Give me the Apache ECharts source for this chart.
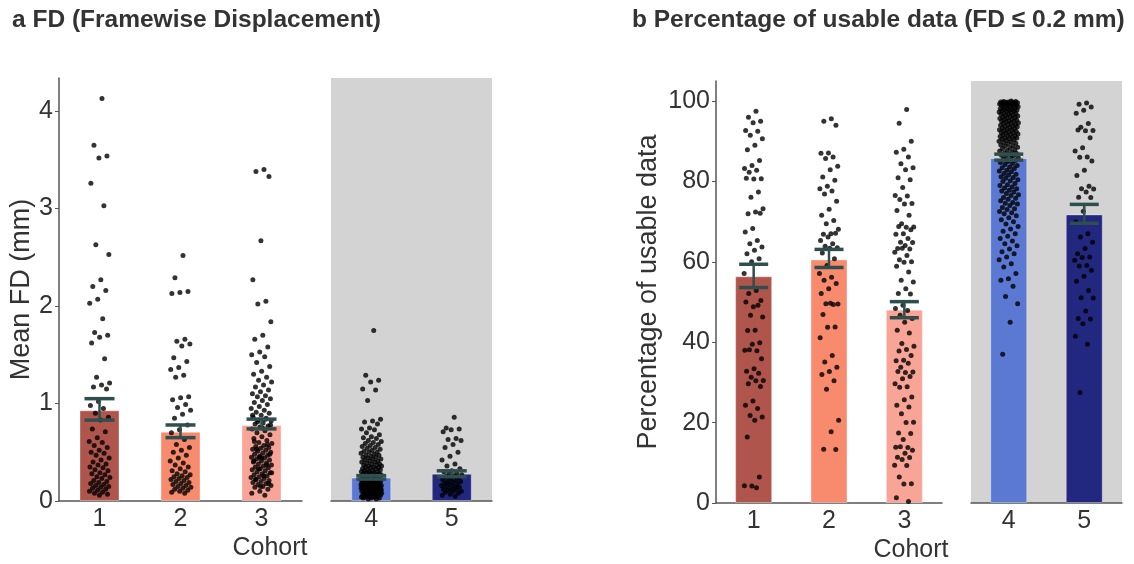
<!DOCTYPE html>
<html><head><meta charset="utf-8">
<script src="https://cdn.jsdelivr.net/npm/echarts@6/dist/echarts.min.js"></script>
<style>html,body{margin:0;padding:0;background:#fff}#c{width:1134px;height:564px}</style>
</head><body><div id="c"></div>
<script>
// ---------- data ----------
const cohortsLeft = ['1', '2', '3'];
const cohortsRight = ['4', '5'];
const fdTicks = [0, 1, 2, 3, 4];
const pctTicks = [0, 20, 40, 60, 80, 100];

const fdMean = [0.93, 0.71, 0.78, 0.24, 0.28];
const fdLow  = [0.83, 0.65, 0.74, 0.225, 0.25];
const fdHigh = [1.05, 0.78, 0.84, 0.26, 0.31];

const pctMean = [56.4, 60.6, 48.1, 85.8, 71.8];
const pctLow  = [53.6, 58.6, 46.1, 85.3, 69.6];
const pctHigh = [59.4, 63.1, 50.1, 86.8, 74.3];

const fd1 = [4.13, 3.65, 3.54, 3.52, 3.26, 3.03, 2.63, 2.53, 2.27, 2.20, 2.16, 2.07, 2.03, 1.87, 1.73, 1.70, 1.68, 1.62, 1.46, 1.27, 1.21, 1.19, 1.17, 1.15, 1.02, 0.98, 0.95, 0.90, 0.86, 0.83, 0.74, 0.71, 0.65, 0.61, 0.60, 0.57, 0.55, 0.52, 0.50, 0.49, 0.47, 0.44, 0.42, 0.40, 0.38, 0.37, 0.35, 0.34, 0.32, 0.31, 0.29, 0.28, 0.27, 0.25, 0.24, 0.23, 0.21, 0.20, 0.19, 0.18, 0.17, 0.16, 0.15, 0.14, 0.13, 0.12, 0.11, 0.10, 0.09, 0.08, 0.07, 0.06];
const fd2 = [2.52, 2.29, 2.15, 2.14, 2.13, 1.66, 1.64, 1.61, 1.59, 1.47, 1.43, 1.37, 1.35, 1.29, 1.27, 1.07, 1.06, 1.04, 0.99, 0.96, 0.93, 0.89, 0.85, 0.78, 0.73, 0.70, 0.63, 0.58, 0.55, 0.52, 0.50, 0.47, 0.44, 0.41, 0.39, 0.37, 0.35, 0.33, 0.31, 0.30, 0.28, 0.27, 0.26, 0.25, 0.24, 0.23, 0.22, 0.21, 0.20, 0.19, 0.18, 0.17, 0.16, 0.15, 0.14, 0.13, 0.12, 0.11, 0.10, 0.09, 0.08];
const fd3 = [3.40, 3.38, 3.33, 2.67, 2.27, 2.05, 2.02, 1.84, 1.70, 1.66, 1.58, 1.53, 1.50, 1.48, 1.42, 1.38, 1.33, 1.30, 1.27, 1.24, 1.22, 1.19, 1.17, 1.14, 1.12, 1.10, 1.08, 1.07, 1.05, 1.03, 1.01, 0.99, 0.97, 0.95, 0.93, 0.91, 0.90, 0.88, 0.86, 0.85, 0.83, 0.82, 0.80, 0.79, 0.77, 0.76, 0.74, 0.72, 0.70, 0.68, 0.66, 0.64, 0.62, 0.60, 0.59, 0.57, 0.56, 0.55, 0.54, 0.53, 0.52, 0.51, 0.50, 0.49, 0.48, 0.47, 0.46, 0.45, 0.44, 0.43, 0.42, 0.41, 0.40, 0.39, 0.38, 0.37, 0.36, 0.35, 0.34, 0.33, 0.32, 0.31, 0.30, 0.29, 0.28, 0.27, 0.26, 0.25, 0.24, 0.23, 0.22, 0.21, 0.20, 0.19, 0.18, 0.17, 0.16, 0.15, 0.14, 0.12, 0.10, 0.08, 0.06, 0.53, 0.48, 0.44, 0.41, 0.37, 0.33, 0.29, 0.26, 0.22, 0.18, 0.15, 0.88, 0.84, 0.81, 0.78, 0.75, 0.61, 0.58, 0.45];
const fd4 = [1.75, 1.29, 1.24, 1.22, 1.15, 1.14, 1.03, 0.84, 0.82, 0.81, 0.79, 0.75, 0.74, 0.73, 0.70, 0.68, 0.66, 0.65, 0.64, 0.62, 0.61, 0.60, 0.59, 0.58, 0.57, 0.56, 0.55, 0.54, 0.53, 0.52, 0.51, 0.50, 0.50, 0.49, 0.48, 0.47, 0.47, 0.46, 0.45, 0.45, 0.44, 0.43, 0.43, 0.42, 0.41, 0.41, 0.40, 0.40, 0.39, 0.38, 0.38, 0.37, 0.37, 0.36, 0.36, 0.35, 0.35, 0.34, 0.34, 0.33, 0.33, 0.32, 0.32, 0.31, 0.31, 0.30, 0.30, 0.30, 0.29, 0.29, 0.28, 0.28, 0.28, 0.27, 0.27, 0.27, 0.26, 0.26, 0.26, 0.25, 0.25, 0.25, 0.24, 0.24, 0.24, 0.23, 0.23, 0.23, 0.22, 0.22, 0.22, 0.21, 0.21, 0.21, 0.20, 0.20, 0.20, 0.19, 0.19, 0.19, 0.19, 0.18, 0.18, 0.18, 0.17, 0.17, 0.17, 0.17, 0.16, 0.16, 0.16, 0.16, 0.15, 0.15, 0.15, 0.15, 0.14, 0.14, 0.14, 0.14, 0.13, 0.13, 0.13, 0.13, 0.12, 0.12, 0.12, 0.12, 0.11, 0.11, 0.11, 0.11, 0.10, 0.10, 0.10, 0.10, 0.09, 0.09, 0.09, 0.09, 0.08, 0.08, 0.08, 0.08, 0.07, 0.07, 0.07, 0.07, 0.06, 0.06, 0.06, 0.06, 0.05, 0.05, 0.05, 0.05, 0.04, 0.04, 0.04, 0.03, 0.03, 0.03, 0.02, 0.02, 0.115, 0.135, 0.155, 0.175, 0.195, 0.215, 0.235, 0.105, 0.125, 0.145, 0.085, 0.065, 0.045, 0.165, 0.185];
const fd5 = [0.86, 0.75, 0.74, 0.73, 0.71, 0.64, 0.63, 0.62, 0.58, 0.55, 0.50, 0.46, 0.42, 0.38, 0.36, 0.33, 0.31, 0.30, 0.29, 0.28, 0.27, 0.26, 0.25, 0.24, 0.23, 0.22, 0.21, 0.20, 0.20, 0.19, 0.18, 0.17, 0.17, 0.16, 0.15, 0.15, 0.14, 0.13, 0.12, 0.12, 0.11, 0.10, 0.10, 0.09, 0.08, 0.07, 0.06, 0.05];

const pct1 = [97.5, 96.0, 95.0, 94.6, 92.7, 92.5, 91.5, 90.6, 89.0, 87.9, 85.2, 84.0, 83.2, 82.8, 82.3, 80.7, 80.6, 80.8, 77.4, 76.1, 73.2, 72.4, 72.0, 72.1, 68.3, 67.4, 65.3, 64.5, 63.7, 62.9, 62.0, 60.8, 60.0, 57.1, 52.9, 52.1, 50.4, 48.8, 50.0, 49.2, 46.7, 46.3, 43.0, 42.9, 39.9, 39.5, 38.0, 37.9, 38.1, 35.9, 33.4, 32.8, 32.3, 31.3, 30.5, 30.4, 29.7, 29.0, 25.4, 24.3, 23.5, 21.8, 21.4, 20.6, 16.4, 6.5, 4.2, 4.3, 3.8];
const pct2 = [95.6, 95.0, 94.0, 87.1, 87.0, 86.1, 85.7, 83.8, 82.9, 81.1, 80.3, 78.8, 78.2, 77.6, 76.9, 75.1, 73.1, 71.6, 70.3, 69.5, 68.1, 67.0, 66.9, 67.1, 66.2, 65.3, 64.5, 63.9, 63.5, 63.4, 62.2, 60.8, 59.1, 57.1, 56.2, 55.4, 54.6, 53.3, 52.1, 49.4, 49.6, 49.5, 49.7, 46.9, 43.8, 43.7, 41.1, 36.7, 35.1, 33.8, 32.7, 32.0, 30.4, 28.3, 20.6, 17.7, 13.4, 13.3];
const pct3 = [97.9, 94.5, 90.0, 88.0, 87.3, 86.1, 84.4, 83.4, 82.9, 80.9, 80.4, 78.5, 76.5, 76.4, 75.5, 74.5, 74.4, 72.8, 71.6, 69.5, 68.7, 68.6, 68.8, 68.0, 67.0, 66.9, 65.8, 64.9, 64.8, 64.1, 63.3, 63.2, 63.4, 62.4, 61.6, 60.5, 60.0, 59.9, 58.9, 57.5, 55.4, 55.0, 53.3, 52.1, 52.0, 49.2, 48.4, 47.9, 46.7, 45.9, 45.0, 43.0, 42.3, 39.7, 39.0, 38.2, 37.8, 36.7, 35.5, 35.4, 34.8, 33.8, 32.6, 32.5, 32.7, 31.5, 30.9, 29.7, 28.9, 28.8, 26.4, 25.7, 24.3, 23.9, 22.2, 20.1, 20.0, 17.4, 17.3, 15.8, 13.9, 13.8, 14.0, 13.1, 12.4, 11.4, 11.3, 10.8, 9.4, 9.3, 6.5, 4.8, 4.7, 1.3, 0.4];
const pct4 = [100.0, 99.9, 99.9, 99.8, 99.8, 99.7, 99.7, 99.6, 99.6, 99.5, 99.5, 99.4, 99.3, 99.2, 99.2, 99.1, 99.0, 98.9, 98.8, 98.7, 98.6, 98.5, 98.4, 98.3, 98.2, 98.1, 98.0, 97.9, 97.8, 97.7, 97.6, 97.5, 97.4, 97.3, 97.2, 97.0, 96.9, 96.8, 96.7, 96.5, 96.4, 96.3, 96.2, 96.0, 95.9, 95.8, 95.7, 95.5, 95.4, 95.3, 95.1, 95.0, 94.9, 94.8, 94.6, 94.5, 94.4, 94.2, 94.1, 94.0, 93.8, 93.7, 93.6, 93.4, 93.3, 93.2, 93.0, 92.9, 92.8, 92.6, 92.5, 92.4, 92.2, 92.1, 92.0, 91.8, 91.7, 91.6, 91.4, 91.3, 91.2, 91.0, 90.9, 90.8, 90.6, 90.5, 90.4, 90.2, 90.0, 89.9, 89.7, 89.5, 89.4, 89.1, 88.9, 88.8, 88.5, 88.3, 88.2, 87.9, 87.7, 87.6, 87.3, 87.1, 87.0, 86.7, 86.5, 86.4, 86.1, 85.9, 85.8, 85.5, 85.2, 85.0, 84.7, 84.5, 84.2, 84.0, 83.6, 83.4, 83.2, 82.8, 82.6, 82.4, 82.0, 81.8, 81.6, 81.2, 81.0, 80.8, 80.4, 80.2, 80.0, 79.5, 79.2, 79.0, 78.6, 78.4, 78.2, 77.8, 77.6, 77.4, 77.0, 76.7, 76.5, 76.0, 75.8, 75.6, 75.2, 74.8, 74.6, 74.4, 74.0, 73.5, 73.2, 73.0, 72.5, 72.2, 72.0, 71.5, 71.0, 70.5, 70.0, 69.4, 68.8, 68.2, 67.6, 67.0, 66.4, 65.8, 65.2, 64.5, 64.0, 63.2, 62.5, 62.0, 61.2, 60.5, 59.5, 58.7, 57.1, 55.8, 55.4, 53.9, 51.4, 49.6, 45.0, 37.0];
const pct5 = [99.5, 99.2, 98.5, 97.7, 97.0, 94.4, 93.5, 92.7, 92.6, 92.8, 90.9, 88.4, 87.6, 86.1, 86.0, 85.1, 82.8, 81.5, 78.8, 78.2, 78.1, 77.4, 76.1, 76.0, 72.6, 69.9, 67.0, 66.2, 64.9, 63.3, 62.0, 61.2, 61.1, 60.4, 59.1, 59.0, 57.9, 56.4, 55.2, 52.9, 51.1, 51.0, 47.8, 45.9, 45.8, 44.6, 41.5, 39.5, 27.5];

// ---------- styling ----------
const barColors = ['#B0554C', '#F88B6E', '#F8A597', '#5B78D3', '#22277F'];
const FONT = 'Liberation Sans, Arial, Helvetica, sans-serif';
const AX = '#555555';
const TXT = '#333333';
const ERR = '#2F4F4F';
const JIT = 0.13;

function jitter(vals, idx) {
  return vals.map((v, i) => [idx + (((i + 1) * 0.6180339887) % 1 - 0.5) * 2 * JIT, v]);
}

function errRender(capW) {
  return function (params, api) {
    const x = api.value(0), lo = api.value(1), hi = api.value(2);
    const a = api.coord([x, lo]), b = api.coord([x, hi]);
    return {
      type: 'group', children: [
        { type: 'line', shape: { x1: a[0], y1: a[1], x2: b[0], y2: b[1] }, style: { stroke: ERR, lineWidth: 2.5 } },
        { type: 'line', shape: { x1: a[0] - capW / 2, y1: a[1], x2: a[0] + capW / 2, y2: a[1] }, style: { stroke: ERR, lineWidth: 3.5 } },
        { type: 'line', shape: { x1: b[0] - capW / 2, y1: b[1], x2: b[0] + capW / 2, y2: b[1] }, style: { stroke: ERR, lineWidth: 3.5 } }
      ]
    };
  };
}

const grids = [
  { left: 59, top: 78, width: 243, height: 423 },
  { left: 331, top: 78, width: 161, height: 423, show: true, backgroundColor: '#D3D3D3', borderWidth: 0 },
  { left: 716, top: 81, width: 226, height: 422 },
  { left: 971, top: 81, width: 151, height: 422, show: true, backgroundColor: '#D3D3D3', borderWidth: 0 }
];

function catAxis(g, data) {
  return {
    type: 'category', gridIndex: g, data: data,
    axisLine: { show: true, onZero: false, lineStyle: { color: AX, width: 1.5 } },
    axisTick: { show: false },
    axisLabel: { fontSize: 25, color: TXT, fontFamily: FONT, margin: 6 },
    splitLine: { show: false }
  };
}
function valXAxis(g, n) {
  return { type: 'value', gridIndex: g, min: -0.5, max: n - 0.5, show: false, axisLine: { onZero: false } };
}
function yAxis(g, max, ticks, name, gap, show) {
  return {
    type: 'value', gridIndex: g, min: 0, max: max, show: show, position: 'left',
    name: name, nameLocation: 'middle', nameGap: gap,
    nameTextStyle: { fontSize: 27, color: TXT, fontFamily: FONT },
    axisLine: { show: true, onZero: false, lineStyle: { color: AX, width: 1.5 } },
    axisTick: { show: true, length: 4, lineStyle: { color: AX }, customValues: ticks },
    axisLabel: { fontSize: 25, color: TXT, fontFamily: FONT, margin: 6, customValues: ticks },
    splitLine: { show: false }
  };
}

const series = [];
function addPanel(xCat, xVal, yIdx, means, lows, highs, lists, offset, barW, capW) {
  series.push({
    type: 'bar', xAxisIndex: xCat, yAxisIndex: yIdx, barWidth: barW, z: 2,
    data: means.map((m, i) => ({ value: m, itemStyle: { color: barColors[offset + i], borderColor: 'rgba(255,255,255,0.35)', borderWidth: 1 } })),
    silent: true, animation: false
  });
  lists.forEach((vals, i) => {
    series.push({
      type: 'scatter', xAxisIndex: xVal, yAxisIndex: yIdx, symbolSize: 5, z: 3,
      itemStyle: { color: '#000' }, data: jitter(vals, i), silent: true, animation: false
    });
  });
  series.push({
    type: 'custom', xAxisIndex: xVal, yAxisIndex: yIdx, z: 4, renderItem: errRender(capW),
    encode: { x: 0, y: [1, 2] },
    data: lows.map((lo, i) => [i, lo, highs[i]]), silent: true, animation: false
  });
}

addPanel(0, 4, 0, fdMean.slice(0, 3), fdLow.slice(0, 3), fdHigh.slice(0, 3), [fd1, fd2, fd3], 0, 40, 30);
addPanel(1, 5, 1, fdMean.slice(3), fdLow.slice(3), fdHigh.slice(3), [fd4, fd5], 3, 40, 30);
addPanel(2, 6, 2, pctMean.slice(0, 3), pctLow.slice(0, 3), pctHigh.slice(0, 3), [pct1, pct2, pct3], 0, 37, 29);
addPanel(3, 7, 3, pctMean.slice(3), pctLow.slice(3), pctHigh.slice(3), [pct4, pct5], 3, 37, 29);

const option = {
  animation: false,
  backgroundColor: '#ffffff',
  grid: grids,
  xAxis: [
    catAxis(0, cohortsLeft), catAxis(1, cohortsRight), catAxis(2, cohortsLeft), catAxis(3, cohortsRight),
    valXAxis(0, 3), valXAxis(1, 2), valXAxis(2, 3), valXAxis(3, 2)
  ],
  yAxis: [
    yAxis(0, 4.34, fdTicks, 'Mean FD (mm)', 24, true),
    yAxis(1, 4.34, fdTicks, '', 0, false),
    yAxis(2, 105, pctTicks, 'Percentage of usable data', 54, true),
    yAxis(3, 105, pctTicks, '', 0, false)
  ],
  graphic: [
    { type: 'text', left: 12, top: 8, style: { text: 'a FD (Framewise Displacement)', fill: TXT, font: 'bold 24.5px ' + FONT } },
    { type: 'text', left: 632, top: 8, style: { text: 'b Percentage of usable data (FD ≤ 0.2 mm)', fill: TXT, font: 'bold 24.5px ' + FONT } },
    { type: 'text', x: 270, y: 548, style: { text: 'Cohort', fill: TXT, font: '25px ' + FONT, align: 'center', verticalAlign: 'middle' } },
    { type: 'text', x: 911, y: 550, style: { text: 'Cohort', fill: TXT, font: '25px ' + FONT, align: 'center', verticalAlign: 'middle' } }
  ],
  series: series
};

const chart = echarts.init(document.getElementById('c'), null, { renderer: 'canvas' });
chart.setOption(option);
</script>
</body></html>
